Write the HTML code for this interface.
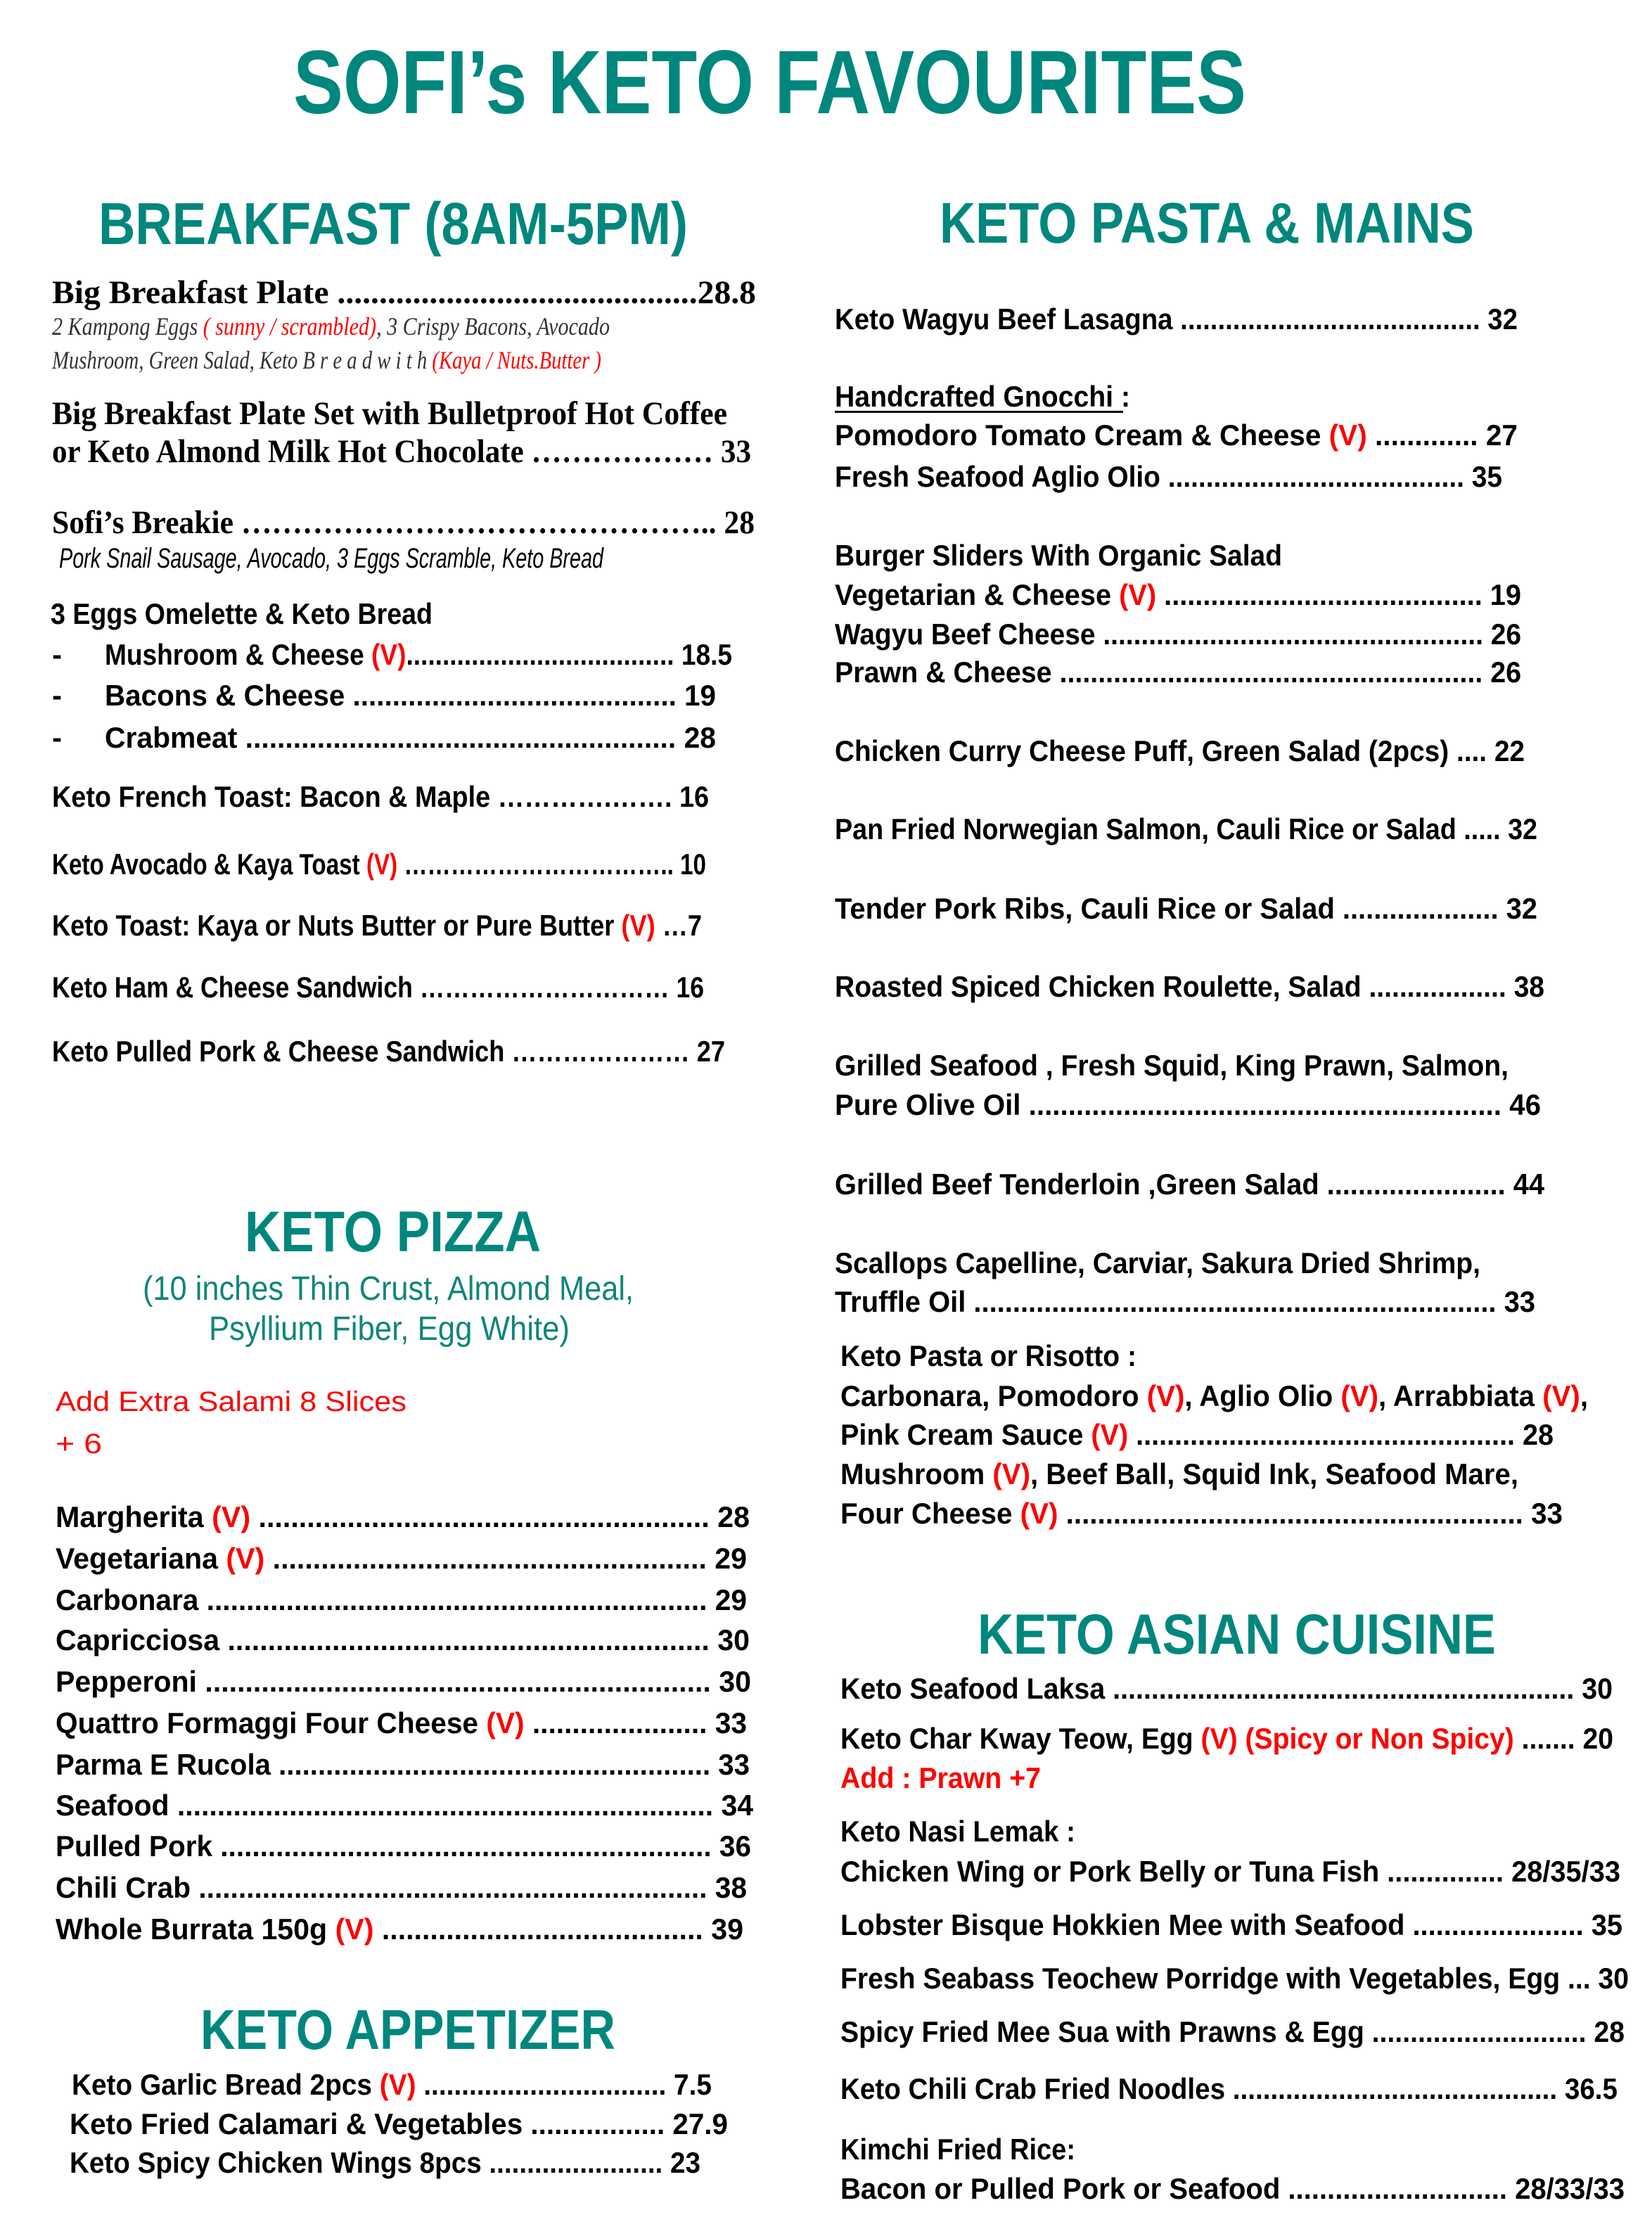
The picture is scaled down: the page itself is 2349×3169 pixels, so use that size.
<!DOCTYPE html>
<html><head><meta charset="utf-8"><style>
html,body{margin:0;padding:0;background:#fff;}
svg{display:block;}
.h{font-family:"Liberation Sans",sans-serif;font-weight:bold;fill:#00877d;}
.b{font-family:"Liberation Sans",sans-serif;font-weight:bold;font-size:42px;fill:#000;}
.s{font-family:"Liberation Serif",serif;font-weight:bold;font-size:47px;fill:#000;}
.si{font-family:"Liberation Serif",serif;font-style:italic;font-size:36px;fill:#333;}
.pi{font-family:"Liberation Sans",sans-serif;font-style:italic;font-size:40px;fill:#000;}
.t{font-family:"Liberation Sans",sans-serif;font-size:48px;fill:#10857b;}
.r{fill:#f00;}
.rn{font-family:"Liberation Sans",sans-serif;font-size:40px;fill:#f00;}
</style></head><body>
<svg width="2349" height="3169" viewBox="0 0 2349 3169" xmlns="http://www.w3.org/2000/svg">
<rect width="2349" height="3169" fill="#fff"/>
<text class="h" x="417" y="161" font-size="128" textLength="1355" lengthAdjust="spacingAndGlyphs">SOFI’s KETO FAVOURITES</text>

<!-- BREAKFAST -->
<text class="h" x="140" y="347" font-size="84" textLength="838" lengthAdjust="spacingAndGlyphs">BREAKFAST (8AM-5PM)</text>
<text class="s" x="74" y="431" textLength="1001" lengthAdjust="spacingAndGlyphs">Big Breakfast Plate ...........................................28.8</text>
<text class="si" x="74" y="476" textLength="793" lengthAdjust="spacingAndGlyphs">2 Kampong Eggs <tspan class="r">( sunny / scrambled)</tspan>, 3 Crispy Bacons, Avocado</text>
<text class="si" x="74" y="524" textLength="781" lengthAdjust="spacingAndGlyphs">Mushroom, Green Salad, Keto B r e a d  w i t h  <tspan class="r">(Kaya / Nuts.Butter )</tspan></text>
<text class="s" x="74" y="603" textLength="960" lengthAdjust="spacingAndGlyphs">Big  Breakfast  Plate Set with Bulletproof  Hot Coffee</text>
<text class="s" x="74" y="657" textLength="994" lengthAdjust="spacingAndGlyphs">or Keto Almond Milk Hot Chocolate ……………… 33</text>
<text class="s" x="74" y="758" textLength="999" lengthAdjust="spacingAndGlyphs">Sofi’s Breakie ……………………………………….. 28</text>
<text class="pi" x="84" y="807" textLength="774" lengthAdjust="spacingAndGlyphs">Pork Snail Sausage, Avocado, 3 Eggs Scramble, Keto Bread</text>
<text class="b" x="72" y="887" textLength="543" lengthAdjust="spacingAndGlyphs">3  Eggs Omelette &amp; Keto Bread</text>
<text class="b" x="74" y="945">-</text>
<text class="b" x="149" y="945" textLength="892" lengthAdjust="spacingAndGlyphs">Mushroom &amp; Cheese <tspan class="r">(V)</tspan>..................................... 18.5</text>
<text class="b" x="74" y="1003">-</text>
<text class="b" x="149" y="1003" textLength="869" lengthAdjust="spacingAndGlyphs">Bacons &amp; Cheese ......................................... 19</text>
<text class="b" x="74" y="1063">-</text>
<text class="b" x="149" y="1063" textLength="869" lengthAdjust="spacingAndGlyphs">Crabmeat ...................................................... 28</text>
<text class="b" x="74" y="1147" textLength="934" lengthAdjust="spacingAndGlyphs">Keto French Toast: Bacon &amp; Maple ………….……. 16</text>
<text class="b" x="74" y="1243" textLength="930" lengthAdjust="spacingAndGlyphs">Keto Avocado &amp; Kaya Toast <tspan class="r">(V)</tspan> …………………………….. 10</text>
<text class="b" x="74" y="1330" textLength="924" lengthAdjust="spacingAndGlyphs">Keto Toast:  Kaya or Nuts Butter or Pure Butter <tspan class="r">(V)</tspan> …7</text>
<text class="b" x="74" y="1418" textLength="927" lengthAdjust="spacingAndGlyphs">Keto Ham &amp; Cheese Sandwich ………………………… 16</text>
<text class="b" x="74" y="1509" textLength="957" lengthAdjust="spacingAndGlyphs">Keto Pulled Pork &amp; Cheese Sandwich ………………… 27</text>

<!-- PIZZA -->
<text class="h" x="348" y="1779" font-size="82" textLength="421" lengthAdjust="spacingAndGlyphs">KETO PIZZA</text>
<text class="t" x="203" y="1848" textLength="698" lengthAdjust="spacingAndGlyphs">(10 inches Thin Crust, Almond Meal,</text>
<text class="t" x="297" y="1905" textLength="513" lengthAdjust="spacingAndGlyphs">Psyllium Fiber, Egg White)</text>
<text class="rn" x="79" y="2006" textLength="499" lengthAdjust="spacingAndGlyphs">Add Extra Salami 8 Slices</text>
<text class="rn" x="79" y="2066" textLength="66" lengthAdjust="spacingAndGlyphs">+ 6</text>
<text class="b" x="79" y="2171" textLength="987" lengthAdjust="spacingAndGlyphs">Margherita <tspan class="r">(V)</tspan> ........................................................ 28</text>
<text class="b" x="79" y="2230" textLength="983" lengthAdjust="spacingAndGlyphs">Vegetariana <tspan class="r">(V)</tspan> ...................................................... 29</text>
<text class="b" x="79" y="2289" textLength="983" lengthAdjust="spacingAndGlyphs">Carbonara ............................................................... 29</text>
<text class="b" x="79" y="2346" textLength="987" lengthAdjust="spacingAndGlyphs">Capricciosa ............................................................ 30</text>
<text class="b" x="79" y="2405" textLength="989" lengthAdjust="spacingAndGlyphs">Pepperoni ............................................................... 30</text>
<text class="b" x="79" y="2464" textLength="983" lengthAdjust="spacingAndGlyphs">Quattro Formaggi Four Cheese <tspan class="r">(V)</tspan> ...................... 33</text>
<text class="b" x="79" y="2523" textLength="987" lengthAdjust="spacingAndGlyphs">Parma E Rucola ....................................................... 33</text>
<text class="b" x="79" y="2581" textLength="992" lengthAdjust="spacingAndGlyphs">Seafood ................................................................... 34</text>
<text class="b" x="79" y="2639" textLength="989" lengthAdjust="spacingAndGlyphs">Pulled Pork .............................................................. 36</text>
<text class="b" x="79" y="2698" textLength="983" lengthAdjust="spacingAndGlyphs">Chili Crab ................................................................ 38</text>
<text class="b" x="79" y="2757" textLength="978" lengthAdjust="spacingAndGlyphs">Whole Burrata 150g <tspan class="r">(V)</tspan> ........................................ 39</text>

<!-- APPETIZER -->
<text class="h" x="285" y="2913" font-size="80" textLength="590" lengthAdjust="spacingAndGlyphs">KETO APPETIZER</text>
<text class="b" x="102" y="2978" textLength="910" lengthAdjust="spacingAndGlyphs">Keto Garlic Bread 2pcs <tspan class="r">(V)</tspan> ................................ 7.5</text>
<text class="b" x="99" y="3034" textLength="936" lengthAdjust="spacingAndGlyphs">Keto Fried Calamari &amp; Vegetables .................  27.9</text>
<text class="b" x="99" y="3089" textLength="897" lengthAdjust="spacingAndGlyphs">Keto Spicy Chicken Wings 8pcs ....................... 23</text>

<!-- PASTA & MAINS -->
<text class="h" x="1336" y="345" font-size="82" textLength="760" lengthAdjust="spacingAndGlyphs">KETO PASTA &amp; MAINS</text>
<text class="b" x="1187" y="468" textLength="971" lengthAdjust="spacingAndGlyphs">Keto Wagyu Beef Lasagna ........................................ 32</text>
<text class="b" x="1187" y="578" textLength="420" lengthAdjust="spacingAndGlyphs">Handcrafted Gnocchi :</text>
<rect x="1187" y="584" width="410" height="3" fill="#000"/>
<text class="b" x="1187" y="633" textLength="971" lengthAdjust="spacingAndGlyphs">Pomodoro Tomato Cream &amp; Cheese <tspan class="r">(V)</tspan> .............  27</text>
<text class="b" x="1187" y="692" textLength="949" lengthAdjust="spacingAndGlyphs">Fresh Seafood Aglio Olio ....................................... 35</text>
<text class="b" x="1187" y="804" textLength="636" lengthAdjust="spacingAndGlyphs">Burger Sliders With Organic Salad</text>
<text class="b" x="1187" y="860" textLength="976" lengthAdjust="spacingAndGlyphs">Vegetarian &amp; Cheese <tspan class="r">(V)</tspan> ......................................... 19</text>
<text class="b" x="1187" y="916" textLength="976" lengthAdjust="spacingAndGlyphs">Wagyu Beef Cheese .................................................. 26</text>
<text class="b" x="1187" y="970" textLength="976" lengthAdjust="spacingAndGlyphs">Prawn &amp; Cheese ....................................................... 26</text>
<text class="b" x="1187" y="1082" textLength="981" lengthAdjust="spacingAndGlyphs">Chicken Curry Cheese Puff, Green Salad (2pcs) .... 22</text>
<text class="b" x="1187" y="1193" textLength="999" lengthAdjust="spacingAndGlyphs">Pan Fried Norwegian Salmon, Cauli Rice or Salad ..... 32</text>
<text class="b" x="1187" y="1306" textLength="999" lengthAdjust="spacingAndGlyphs">Tender Pork Ribs, Cauli Rice or Salad ....................  32</text>
<text class="b" x="1187" y="1417" textLength="1009" lengthAdjust="spacingAndGlyphs">Roasted Spiced Chicken Roulette, Salad .................. 38</text>
<text class="b" x="1187" y="1529" textLength="958" lengthAdjust="spacingAndGlyphs">Grilled Seafood , Fresh Squid, King Prawn, Salmon,</text>
<text class="b" x="1187" y="1585" textLength="1004" lengthAdjust="spacingAndGlyphs">Pure Olive Oil  ............................................................ 46</text>
<text class="b" x="1187" y="1698" textLength="1009" lengthAdjust="spacingAndGlyphs">Grilled Beef Tenderloin ,Green Salad ....................... 44</text>
<text class="b" x="1187" y="1810" textLength="918" lengthAdjust="spacingAndGlyphs">Scallops Capelline, Carviar, Sakura Dried Shrimp,</text>
<text class="b" x="1187" y="1865" textLength="996" lengthAdjust="spacingAndGlyphs">Truffle Oil ................................................................... 33</text>
<text class="b" x="1195" y="1942" textLength="421" lengthAdjust="spacingAndGlyphs">Keto Pasta or Risotto :</text>
<text class="b" x="1195" y="1999" textLength="1063" lengthAdjust="spacingAndGlyphs">Carbonara, Pomodoro <tspan class="r">(V)</tspan>, Aglio Olio <tspan class="r">(V)</tspan>, Arrabbiata <tspan class="r">(V)</tspan>,</text>
<text class="b" x="1195" y="2054" textLength="1014" lengthAdjust="spacingAndGlyphs">Pink Cream Sauce <tspan class="r">(V)</tspan> ................................................. 28</text>
<text class="b" x="1195" y="2110" textLength="964" lengthAdjust="spacingAndGlyphs">Mushroom <tspan class="r">(V)</tspan>, Beef Ball, Squid Ink, Seafood Mare,</text>
<text class="b" x="1195" y="2166" textLength="1027" lengthAdjust="spacingAndGlyphs">Four Cheese <tspan class="r">(V)</tspan> .......................................................... 33</text>

<!-- ASIAN -->
<text class="h" x="1390" y="2351" font-size="81" textLength="737" lengthAdjust="spacingAndGlyphs">KETO ASIAN CUISINE</text>
<text class="b" x="1195" y="2415" textLength="1098" lengthAdjust="spacingAndGlyphs">Keto Seafood Laksa ............................................................ 30</text>
<text class="b" x="1195" y="2486" textLength="1099" lengthAdjust="spacingAndGlyphs">Keto Char Kway Teow, Egg <tspan class="r">(V) (Spicy or Non Spicy)</tspan> ....... 20</text>
<text class="b r" x="1195" y="2542" textLength="285" lengthAdjust="spacingAndGlyphs">Add : Prawn +7</text>
<text class="b" x="1195" y="2618" textLength="334" lengthAdjust="spacingAndGlyphs">Keto Nasi Lemak :</text>
<text class="b" x="1195" y="2675" textLength="1109" lengthAdjust="spacingAndGlyphs">Chicken Wing or Pork Belly or Tuna Fish ............... 28/35/33</text>
<text class="b" x="1195" y="2751" textLength="1112" lengthAdjust="spacingAndGlyphs">Lobster Bisque Hokkien Mee with Seafood ...................... 35</text>
<text class="b" x="1195" y="2827" textLength="1121" lengthAdjust="spacingAndGlyphs">Fresh Seabass Teochew Porridge with Vegetables, Egg ... 30</text>
<text class="b" x="1195" y="2903" textLength="1115" lengthAdjust="spacingAndGlyphs">Spicy Fried Mee Sua with Prawns &amp; Egg ............................ 28</text>
<text class="b" x="1195" y="2984" textLength="1105" lengthAdjust="spacingAndGlyphs">Keto Chili Crab Fried Noodles ........................................... 36.5</text>
<text class="b" x="1195" y="3070" textLength="334" lengthAdjust="spacingAndGlyphs">Kimchi Fried Rice:</text>
<text class="b" x="1195" y="3126" textLength="1115" lengthAdjust="spacingAndGlyphs">Bacon or Pulled Pork or Seafood ............................ 28/33/33</text>
</svg>
</body></html>
